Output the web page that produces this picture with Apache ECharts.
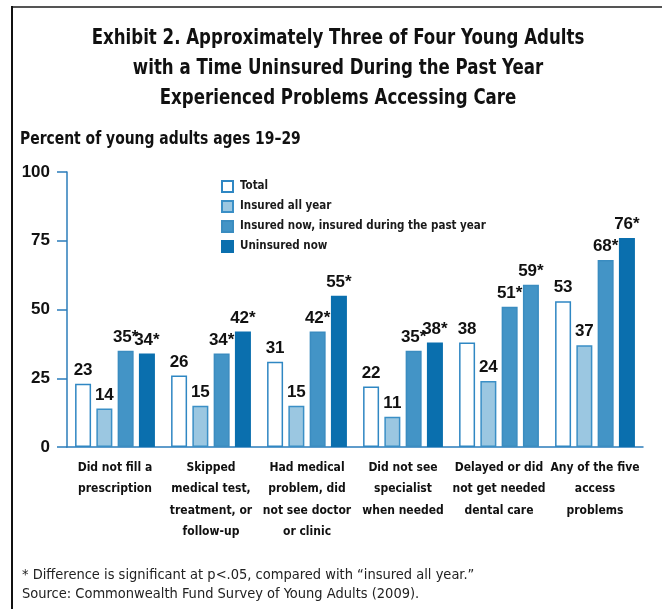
<!DOCTYPE html>
<html>
<head>
<meta charset="utf-8">
<script src="https://cdn.jsdelivr.net/npm/echarts@6/dist/echarts.min.js"></script>
<style>
  html, body { margin: 0; padding: 0; background: #fff; }
  #chart { width: 662px; height: 609px; }
</style>
</head>
<body>
<div id="chart"></div>
<script>
// Access problems among young adults, by insurance status
const categories = [
  'Did not fill a\nprescription',
  'Skipped\nmedical test,\ntreatment, or\nfollow-up',
  'Had medical\nproblem, did\nnot see doctor\nor clinic',
  'Did not see\nspecialist\nwhen needed',
  'Delayed or did\nnot get needed\ndental care',
  'Any of the five\naccess\nproblems'
];
const seriesNames = [
  'Total',
  'Insured all year',
  'Insured now, insured during the past year',
  'Uninsured now'
];
const total            = [23, 26, 31, 22, 38, 53];
const insuredAllYear   = [14, 15, 15, 11, 24, 37];
const insuredNowGap    = [35, 34, 42, 35, 51, 68];
const uninsuredNow     = [34, 42, 55, 38, 59, 76];
// significant difference vs. "insured all year" (marked with *)
const significant      = [false, false, true, true];
const yTicks = [0, 25, 50, 75, 100];

const fills   = ['#ffffff', '#9bc7e1', '#4394c6', '#0a6fae'];
const borders = ['#2f87c3', '#3a8fc6', '#3a8cc0', '#0a6fae'];
const values  = [total, insuredAllYear, insuredNowGap, uninsuredNow];

const numFont = 'Liberation Sans, Arial, sans-serif';
const narrowFont = '"DejaVu Sans Condensed", "DejaVu Sans", sans-serif';

const series = values.map((vals, s) => ({
  name: seriesNames[s],
  type: 'bar',
  barWidth: 16,
  barGap: '33%',
  data: vals.map((v, i) => {
    const d = { value: v };
    // dental care, uninsured bar is drawn in the mid tone
    if (s === 3 && i === 4) {
      d.itemStyle = { color: fills[2], borderColor: borders[2] };
    }
    return d;
  }),
  itemStyle: { color: fills[s], borderColor: borders[s], borderWidth: 1.5 },
  label: {
    show: true,
    position: 'top',
    distance: 5,
    color: '#111',
    fontFamily: numFont,
    fontWeight: 'bold',
    fontSize: 17,
    formatter: p => p.value + (significant[s] ? '*' : '')
  }
}));

// condensed heading text, narrowed horizontally
function headText(str, x, y, size, weight, align, sx) {
  return {
    type: 'text', x: x, y: y, scaleX: sx,
    style: { text: str, textAlign: align, textVerticalAlign: 'middle',
             font: weight + ' ' + size + 'px ' + narrowFont, fill: '#111' }
  };
}

const chart = echarts.init(document.getElementById('chart'), null, { renderer: 'canvas' });
chart.setOption({
  animation: false,
  backgroundColor: '#ffffff',
  grid: { left: 67, right: 19, top: 172, bottom: 162, containLabel: false },
  legend: {
    orient: 'vertical',
    left: 221,
    top: 180,
    padding: 0,
    itemWidth: 11,
    itemHeight: 11,
    itemGap: 7,
    icon: 'rect',
    data: seriesNames,
    textStyle: {
      fontFamily: narrowFont,
      fontWeight: 'bold',
      fontSize: 11.5,
      color: '#1a1a1a',
      padding: [0, 0, 0, 2]
    }
  },
  xAxis: {
    type: 'category',
    data: categories,
    axisLine: { lineStyle: { color: '#2b7cba', width: 1.5 } },
    axisTick: {
      length: 10,
      lineStyle: { color: '#2b7cba', width: 1.5 },
      interval: (idx) => idx !== 0
    },
    axisLabel: {
      margin: 10,
      color: '#111',
      fontFamily: narrowFont,
      fontWeight: 'bold',
      fontSize: 12,
      lineHeight: 21.5,
      interval: 0
    }
  },
  yAxis: {
    type: 'value',
    min: yTicks[0],
    max: yTicks[yTicks.length - 1],
    interval: yTicks[1] - yTicks[0],
    splitLine: { show: false },
    axisLine: { show: true, lineStyle: { color: '#2b7cba', width: 1.5 } },
    axisTick: { show: true, length: 10, lineStyle: { color: '#2b7cba', width: 1.5 } },
    axisLabel: {
      margin: 17,
      color: '#111',
      fontFamily: numFont,
      fontWeight: 'bold',
      fontSize: 17
    }
  },
  series: series,
  graphic: [
    // frame: top rule and left rule
    { type: 'line', shape: { x1: 12, y1: 7, x2: 662, y2: 7 }, style: { stroke: '#555', lineWidth: 2 } },
    { type: 'line', shape: { x1: 12, y1: 6, x2: 12, y2: 609 }, style: { stroke: '#111', lineWidth: 2 } },
    headText('Exhibit 2. Approximately Three of Four Young Adults', 338, 38, 22, 'bold', 'center', 0.84),
    headText('with a Time Uninsured During the Past Year', 338, 68, 22, 'bold', 'center', 0.84),
    headText('Experienced Problems Accessing Care', 338, 98, 22, 'bold', 'center', 0.84),
    headText('Percent of young adults ages 19\u201329', 20, 140, 17, 'bold', 'left', 0.91),
    {
      type: 'text', x: 22, y: 575,
      style: { text: '* Difference is significant at p<.05, compared with \u201cinsured all year.\u201d', textAlign: 'left', textVerticalAlign: 'middle',
               font: '14.5px ' + narrowFont, fill: '#222' }
    },
    {
      type: 'text', x: 22, y: 594,
      style: { text: 'Source: Commonwealth Fund Survey of Young Adults (2009).', textAlign: 'left', textVerticalAlign: 'middle',
               font: '14.5px ' + narrowFont, fill: '#222' }
    }
  ]
});
</script>
</body>
</html>
